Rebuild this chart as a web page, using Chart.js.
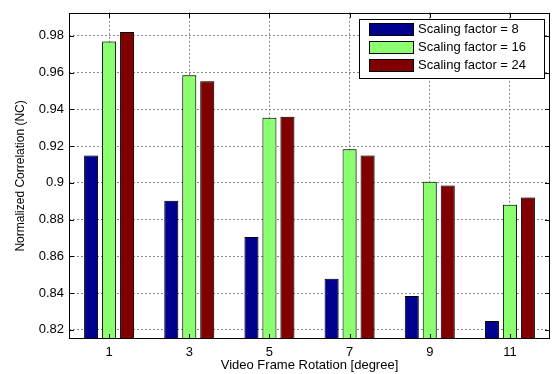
<!DOCTYPE html>
<html>
<head>
<meta charset="utf-8">
<script src="https://cdn.jsdelivr.net/npm/chart.js@4/dist/chart.umd.min.js"></script>
<style>
  html, body { margin: 0; padding: 0; background: #fff; }
  #wrap { width: 553px; height: 374px; }
</style>
</head>
<body>
<div id="wrap"><canvas id="c" width="553" height="374"></canvas></div>
<script>
// Rotation angles (degrees) on the x axis
const rotations = ['1', '3', '5', '7', '9', '11'];

// Series names
const seriesNames = ['Scaling factor = 8', 'Scaling factor = 16', 'Scaling factor = 24'];

// Normalized correlation per rotation angle, one array per scaling factor
const ncFactor8  = [0.9148, 0.8902, 0.8705, 0.8478, 0.8384, 0.8248];
const ncFactor16 = [0.9769, 0.9585, 0.9354, 0.9182, 0.9006, 0.8880];
const ncFactor24 = [0.9820, 0.9552, 0.9359, 0.9148, 0.8985, 0.8920];

// Y axis ticks and limits
const yTickValues = [0.82, 0.84, 0.86, 0.88, 0.90, 0.92, 0.94, 0.96, 0.98];
const yMin = 0.815;
const yMax = 0.9925;

const seriesColors = ['#00008f', '#8cff70', '#800000'];
const FONT = '"Liberation Sans", Arial, sans-serif';

// Soft grey edge behind the bars, axes box, inward tick marks and the legend box
const framePlugin = {
  id: 'frame',
  beforeDatasetsDraw(chart) {
    const ctx = chart.ctx;
    ctx.save();
    ctx.shadowColor = 'rgba(0,0,0,0.35)';
    ctx.shadowBlur = 1.5;
    ctx.shadowOffsetX = 1;
    ctx.shadowOffsetY = 0;
  },
  afterDatasetsDraw(chart) {
    const { ctx, chartArea: a, scales } = chart;
    ctx.restore();
    ctx.save();
    ctx.strokeStyle = '#000';
    ctx.lineWidth = 1;
    ctx.setLineDash([]);
    ctx.strokeRect(Math.round(a.left) + 0.5, Math.round(a.top) + 0.5,
                   Math.round(a.right - a.left) - 1, Math.round(a.bottom - a.top) - 1);
    const tl = 5;
    ctx.beginPath();
    yTickValues.forEach(v => {
      const y = Math.round(scales.y.getPixelForValue(v)) + 0.5;
      ctx.moveTo(a.left, y); ctx.lineTo(a.left + tl, y);
      ctx.moveTo(a.right, y); ctx.lineTo(a.right - tl, y);
    });
    rotations.forEach((r, i) => {
      const x = Math.round(scales.x.getPixelForValue(i)) + 0.5;
      ctx.moveTo(x, a.top); ctx.lineTo(x, a.top + tl);
      ctx.moveTo(x, a.bottom); ctx.lineTo(x, a.bottom - tl);
    });
    ctx.stroke();
    ctx.restore();
  },
  afterDraw(chart) {
    const { ctx } = chart;
    const box = { x: 359, y: 19, w: 185, h: 59 };
    ctx.save();
    ctx.fillStyle = '#fff';
    ctx.fillRect(box.x, box.y, box.w, box.h);
    ctx.strokeStyle = '#000';
    ctx.lineWidth = 1;
    ctx.strokeRect(box.x + 0.5, box.y + 0.5, box.w, box.h);
    ctx.font = '13px ' + FONT;
    ctx.textBaseline = 'middle';
    ctx.textAlign = 'left';
    chart.data.datasets.forEach((ds, i) => {
      const cy = 29 + i * 18;
      ctx.fillStyle = ds.backgroundColor;
      ctx.fillRect(369, cy - 6, 44, 13);
      ctx.strokeRect(369.5, cy - 5.5, 44, 12);
      ctx.fillStyle = '#000';
      ctx.fillText(ds.label, 418, cy + 0.5);
    });
    ctx.restore();
  }
};

const datasets = [ncFactor8, ncFactor16, ncFactor24].map((vals, i) => ({
  label: seriesNames[i],
  data: vals,
  backgroundColor: seriesColors[i],
  borderColor: '#000',
  borderWidth: 1,
  borderSkipped: false,
  categoryPercentage: 0.673,
  barPercentage: 0.78
}));

new Chart(document.getElementById('c'), {
  type: 'bar',
  data: { labels: rotations, datasets },
  options: {
    responsive: false,
    animation: false,
    devicePixelRatio: 1,
    layout: { padding: { top: 12, right: 3, left: 0, bottom: 0 } },
    plugins: { legend: { display: false }, tooltip: { enabled: false } },
    scales: {
      x: {
        offset: true,
        grid: { offset: false, color: '#8a8a8a', lineWidth: 1, drawTicks: false },
        border: { display: false, dash: [2, 2] },
        ticks: { color: '#000', font: { family: FONT, size: 13 }, padding: 6, maxRotation: 0 },
        title: {
          display: true, text: 'Video Frame Rotation [degree]', color: '#000',
          font: { family: FONT, size: 13 }, padding: { top: 0, bottom: 1 }
        },
        afterFit(scale) { scale.height = 35; }
      },
      y: {
        min: yMin,
        max: yMax,
        grid: { color: '#8a8a8a', lineWidth: 1, drawTicks: false },
        border: { display: false, dash: [2, 2] },
        ticks: {
          color: '#000', font: { family: FONT, size: 13 }, padding: 5,
          callback: v => String(Number(v.toFixed(2)))
        },
        afterBuildTicks(scale) { scale.ticks = yTickValues.map(v => ({ value: v })); },
        title: {
          display: true, text: 'Normalized Correlation (NC)', color: '#000',
          font: { family: FONT, size: 12 }, padding: { top: 13, bottom: 0 }
        },
        afterFit(scale) { scale.width = 69; }
      }
    }
  },
  plugins: [framePlugin]
});
</script>
</body>
</html>
